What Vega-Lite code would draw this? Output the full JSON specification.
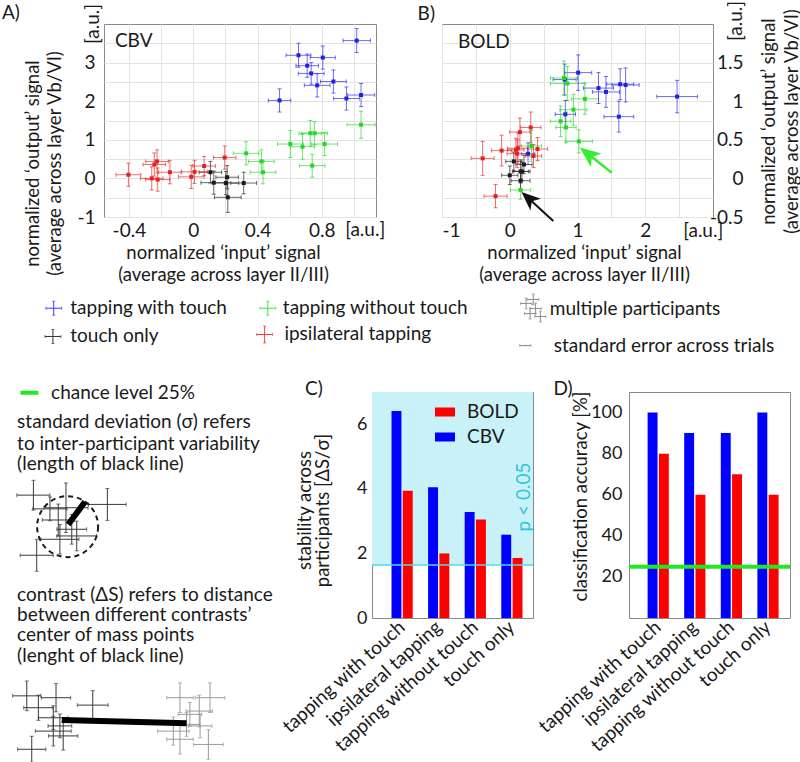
{
"$schema": "https://vega.github.io/schema/vega-lite/v6.json",
"padding": 0,
"autosize": {"type": "pad"},
"spacing": 0,
"resolve": {"scale": {"color": "independent", "xOffset": "independent"}, "legend": {"color": "independent"}},
"config": {
  "font": "Lato",
  "view": {"stroke": "#8a8a8a"},
  "axis": {"labelFont": "Lato", "titleFont": "Lato", "labelFontSize": 19, "titleFontSize": 18.5, "titleFontWeight": "normal", "labelColor": "#1a1a1a", "titleColor": "#1a1a1a", "domain": false, "ticks": false, "grid": false, "labelLimit": 0},
  "text": {"font": "Lato", "fontSize": 19, "color": "#1a1a1a"},
  "legend": {"labelFont": "Lato"}
},
"datasets": {
  "cbv": [
    {"c":"with","x":1.017,"y":3.57,"ex":0.085,"ey":0.31},
    {"c":"with","x":0.655,"y":3.19,"ex":0.077,"ey":0.31},
    {"c":"with","x":0.806,"y":3.13,"ex":0.078,"ey":0.3},
    {"c":"with","x":0.709,"y":2.92,"ex":0.07,"ey":0.3},
    {"c":"with","x":0.734,"y":2.72,"ex":0.08,"ey":0.28},
    {"c":"with","x":0.872,"y":2.51,"ex":0.08,"ey":0.3},
    {"c":"with","x":0.771,"y":2.41,"ex":0.08,"ey":0.3},
    {"c":"with","x":1.044,"y":2.16,"ex":0.085,"ey":0.3},
    {"c":"with","x":0.953,"y":2.07,"ex":0.08,"ey":0.3},
    {"c":"with","x":0.537,"y":2.02,"ex":0.07,"ey":0.3},
    {"c":"without","x":1.044,"y":1.39,"ex":0.087,"ey":0.35},
    {"c":"without","x":0.728,"y":1.17,"ex":0.07,"ey":0.33},
    {"c":"without","x":0.755,"y":1.17,"ex":0.08,"ey":0.3},
    {"c":"without","x":0.604,"y":0.89,"ex":0.08,"ey":0.35},
    {"c":"without","x":0.817,"y":0.89,"ex":0.08,"ey":0.3},
    {"c":"without","x":0.68,"y":0.82,"ex":0.075,"ey":0.32},
    {"c":"without","x":0.329,"y":0.65,"ex":0.08,"ey":0.3},
    {"c":"without","x":0.424,"y":0.44,"ex":0.08,"ey":0.3},
    {"c":"without","x":0.434,"y":0.16,"ex":0.08,"ey":0.3},
    {"c":"without","x":0.74,"y":0.33,"ex":0.08,"ey":0.3},
    {"c":"ipsi","x":-0.403,"y":0.095,"ex":0.077,"ey":0.3},
    {"c":"ipsi","x":-0.242,"y":0.36,"ex":0.07,"ey":0.3},
    {"c":"ipsi","x":-0.225,"y":0.44,"ex":0.07,"ey":0.3},
    {"c":"ipsi","x":-0.258,"y":0.0,"ex":0.07,"ey":0.3},
    {"c":"ipsi","x":-0.221,"y":-0.03,"ex":0.075,"ey":0.3},
    {"c":"ipsi","x":-0.145,"y":0.16,"ex":0.07,"ey":0.3},
    {"c":"ipsi","x":-0.012,"y":0.04,"ex":0.08,"ey":0.3},
    {"c":"ipsi","x":0.008,"y":0.17,"ex":0.08,"ey":0.3},
    {"c":"ipsi","x":0.068,"y":0.32,"ex":0.07,"ey":0.25},
    {"c":"ipsi","x":0.196,"y":0.54,"ex":0.07,"ey":0.3},
    {"c":"touch","x":0.107,"y":0.16,"ex":0.07,"ey":0.28},
    {"c":"touch","x":0.128,"y":-0.11,"ex":0.08,"ey":0.3},
    {"c":"touch","x":0.211,"y":0.03,"ex":0.07,"ey":0.3},
    {"c":"touch","x":0.203,"y":-0.12,"ex":0.08,"ey":0.3},
    {"c":"touch","x":0.314,"y":-0.12,"ex":0.08,"ey":0.28},
    {"c":"touch","x":0.215,"y":-0.49,"ex":0.083,"ey":0.39}
  ],
  "bold": [
    {"c":"with","x":1.01,"y":1.37,"ex":0.2,"ey":0.23},
    {"c":"with","x":0.81,"y":1.28,"ex":0.17,"ey":0.2},
    {"c":"with","x":1.31,"y":1.17,"ex":0.22,"ey":0.2},
    {"c":"with","x":1.42,"y":1.12,"ex":0.2,"ey":0.2},
    {"c":"with","x":1.63,"y":1.22,"ex":0.2,"ey":0.2},
    {"c":"with","x":1.71,"y":1.21,"ex":0.2,"ey":0.22},
    {"c":"with","x":2.47,"y":1.06,"ex":0.3,"ey":0.21},
    {"c":"with","x":1.61,"y":0.8,"ex":0.22,"ey":0.2},
    {"c":"with","x":0.82,"y":0.83,"ex":0.15,"ey":0.18},
    {"c":"with","x":0.27,"y":0.32,"ex":0.1,"ey":0.14},
    {"c":"without","x":0.8,"y":1.3,"ex":0.2,"ey":0.22},
    {"c":"without","x":0.85,"y":1.23,"ex":0.25,"ey":0.22},
    {"c":"without","x":1.11,"y":1.03,"ex":0.2,"ey":0.2},
    {"c":"without","x":0.94,"y":0.89,"ex":0.2,"ey":0.2},
    {"c":"without","x":0.75,"y":0.74,"ex":0.15,"ey":0.2},
    {"c":"without","x":0.83,"y":0.66,"ex":0.15,"ey":0.2},
    {"c":"without","x":1.02,"y":0.48,"ex":0.2,"ey":0.15},
    {"c":"without","x":0.32,"y":0.42,"ex":0.15,"ey":0.2},
    {"c":"without","x":0.16,"y":-0.15,"ex":0.15,"ey":0.12},
    {"c":"ipsi","x":-0.4,"y":0.26,"ex":0.17,"ey":0.22},
    {"c":"ipsi","x":-0.12,"y":0.36,"ex":0.15,"ey":0.2},
    {"c":"ipsi","x":0.15,"y":0.6,"ex":0.15,"ey":0.18},
    {"c":"ipsi","x":0.31,"y":0.66,"ex":0.15,"ey":0.2},
    {"c":"ipsi","x":0.12,"y":0.39,"ex":0.15,"ey":0.2},
    {"c":"ipsi","x":0.11,"y":0.32,"ex":0.15,"ey":0.18},
    {"c":"ipsi","x":0.41,"y":0.38,"ex":0.15,"ey":0.15},
    {"c":"ipsi","x":0.35,"y":0.29,"ex":0.12,"ey":0.15},
    {"c":"ipsi","x":-0.21,"y":-0.23,"ex":0.17,"ey":0.15},
    {"c":"ipsi","x":0.09,"y":0.37,"ex":0.12,"ey":0.15},
    {"c":"touch","x":0.06,"y":0.22,"ex":0.12,"ey":0.12},
    {"c":"touch","x":0.21,"y":0.18,"ex":0.12,"ey":0.12},
    {"c":"touch","x":0.16,"y":0.09,"ex":0.12,"ey":0.15},
    {"c":"touch","x":0.18,"y":0.09,"ex":0.12,"ey":0.12},
    {"c":"touch","x":0.0,"y":0.04,"ex":0.12,"ey":0.12},
    {"c":"touch","x":0.16,"y":-0.03,"ex":0.14,"ey":0.12}
  ],
  "lgx": [
    {"c":"with","x":6.8,"y":52,"ex":1.0,"ey":5.2},
    {"c":"touch","x":6.7,"y":73.1,"ex":1.0,"ey":5.2},
    {"c":"without","x":33.9,"y":52,"ex":1.0,"ey":5.2},
    {"c":"ipsi","x":33.5,"y":71.6,"ex":1.0,"ey":6.3},
    {"c":"multi","x":66.6,"y":48.5,"ex":0.7,"ey":4.0},
    {"c":"multi","x":67.8,"y":52.2,"ex":0.7,"ey":4.0},
    {"c":"multi","x":67.1,"y":56.0,"ex":0.7,"ey":4.0},
    {"c":"multi","x":68.4,"y":58.2,"ex":0.7,"ey":4.0},
    {"c":"multi","x":67.5,"y":45.5,"ex":0.7,"ey":4.0},
    {"c":"se","x":66.5,"y":79.9,"ex":0.7,"ey":0}
  ],
  "lgt": [
    {"t":"tapping with touch","x":8.9,"y":51.9},
    {"t":"touch only","x":8.9,"y":73.1},
    {"t":"tapping without touch","x":35.8,"y":52.0},
    {"t":"ipsilateral tapping","x":36.0,"y":71.0},
    {"t":"multiple participants","x":69.6,"y":52.8},
    {"t":"standard error across trials","x":70.1,"y":79.9}
  ],
  "stext": [
    {"t":"chance level 25%","x":18.5,"y":0.3},
    {"t":"standard deviation (σ) refers","x":6.2,"y":8.2},
    {"t":"to inter-participant variability","x":6.2,"y":13.9},
    {"t":"(length of black line)","x":6.2,"y":19.5},
    {"t":"contrast (ΔS) refers to distance","x":6.2,"y":54.7},
    {"t":"between different contrasts’","x":6.2,"y":60.1},
    {"t":"center of mass points","x":6.2,"y":65.5},
    {"t":"(lenght of black line)","x":6.2,"y":71.2},
    {"t":"C)","x":110.5,"y":-0.8},
    {"t":"D)","x":200.5,"y":-0.8}
  ],
  "scross": [
    {"g":"dark","x":12.1,"y":27.8,"ex":6.0,"ey":4.0},
    {"g":"dark","x":38.9,"y":30.3,"ex":6.8,"ey":4.3},
    {"g":"dark","x":23.9,"y":31.2,"ex":8.0,"ey":6.7},
    {"g":"dark","x":13.3,"y":44.0,"ex":6.0,"ey":4.3},
    {"g":"dark","x":21.1,"y":34.5,"ex":5.8,"ey":4.3},
    {"g":"dark","x":27.8,"y":38.8,"ex":7.2,"ey":4.0},
    {"g":"dark","x":21.7,"y":39.7,"ex":6.9,"ey":4.0},
    {"g":"dark","x":26.0,"y":37.0,"ex":5.4,"ey":4.0},
    {"g":"dark","x":18.1,"y":31.5,"ex":6.2,"ey":3.2},
    {"g":"dark","x":9.7,"y":81.9,"ex":5.1,"ey":4.0},
    {"g":"dark","x":20.3,"y":82.4,"ex":5.3,"ey":3.8},
    {"g":"dark","x":33.6,"y":84.4,"ex":5.6,"ey":3.9},
    {"g":"dark","x":13.9,"y":85.1,"ex":5.3,"ey":3.4},
    {"g":"dark","x":19.3,"y":87.8,"ex":5.4,"ey":3.2},
    {"g":"dark","x":19.3,"y":91.4,"ex":6.5,"ey":4.0},
    {"g":"dark","x":22.9,"y":92.7,"ex":5.3,"ey":3.8},
    {"g":"dark","x":11.5,"y":96.3,"ex":5.1,"ey":3.5},
    {"g":"dark","x":21.7,"y":90.0,"ex":4.3,"ey":3.2},
    {"g":"light","x":65.2,"y":82.4,"ex":4.8,"ey":4.0},
    {"g":"light","x":76.1,"y":82.4,"ex":5.4,"ey":4.0},
    {"g":"light","x":72.2,"y":86.0,"ex":4.8,"ey":4.3},
    {"g":"light","x":67.6,"y":89.6,"ex":4.8,"ey":3.2},
    {"g":"light","x":62.8,"y":91.4,"ex":5.7,"ey":3.8},
    {"g":"light","x":75.5,"y":95.0,"ex":5.4,"ey":4.0},
    {"g":"light","x":65.2,"y":93.6,"ex":4.8,"ey":4.0},
    {"g":"light","x":68.8,"y":86.9,"ex":4.3,"ey":3.2},
    {"g":"light","x":72.5,"y":90.0,"ex":4.3,"ey":3.2}
  ],
  "slines": [
    {"x":24.7,"y":35.7,"x2":30.8,"y2":29.6},
    {"x":22.4,"y":88.4,"x2":67.6,"y2":89.3}
  ],
  "stab": [
    {"cond":"tapping with touch","m":"CBV","v":6.41},
    {"cond":"tapping with touch","m":"BOLD","v":3.94},
    {"cond":"ipsilateral tapping","m":"CBV","v":4.05},
    {"cond":"ipsilateral tapping","m":"BOLD","v":2.0},
    {"cond":"tapping without touch","m":"CBV","v":3.28},
    {"cond":"tapping without touch","m":"BOLD","v":3.05},
    {"cond":"touch only","m":"CBV","v":2.58},
    {"cond":"touch only","m":"BOLD","v":1.86}
  ],
  "acc": [
    {"cond":"tapping with touch","m":"CBV","v":100},
    {"cond":"tapping with touch","m":"BOLD","v":80},
    {"cond":"ipsilateral tapping","m":"CBV","v":90},
    {"cond":"ipsilateral tapping","m":"BOLD","v":60},
    {"cond":"tapping without touch","m":"CBV","v":90},
    {"cond":"tapping without touch","m":"BOLD","v":70},
    {"cond":"touch only","m":"CBV","v":100},
    {"cond":"touch only","m":"BOLD","v":60}
  ]
},
"vconcat": [
  {
    "hconcat": [
      {"width": 38, "height": 193, "view": {"stroke": null}, "data": {"values": [{"t": ""}]}, "mark": {"type": "text"}, "encoding": {"text": {"field": "t"}}},
      {
        "width": 272, "height": 193,
        "data": {"name": "cbv"},
        "encoding": {
          "x": {"field": "x", "type": "quantitative", "scale": {"domain": [-0.555, 1.137], "nice": false, "zero": false},
                "axis": {"values": [-0.4,-0.2,0,0.2,0.4,0.6,0.8,1], "labelExpr": "abs(round(datum.value*10)) % 4 == 0 ? replace(format(datum.value, '~g'), '−', '-') : ''", "grid": true, "gridColor": "#e3e3e3", "labelPadding": 4,
                         "title": ["normalized ‘input’ signal", "(average across layer II/III)"], "titleX": 119, "titleY": 26, "titleBaseline": "top", "titleAlign": "center", "titleLineHeight": 22}},
          "y": {"field": "y", "type": "quantitative", "scale": {"domain": [-1, 4], "nice": false, "zero": false},
                "axis": {"values": [-1,-0.5,0,0.5,1,1.5,2,2.5,3,3.5], "labelExpr": "datum.value % 1 == 0 ? replace(format(datum.value, '~g'), '−', '-') : ''", "grid": true, "gridColor": "#e3e3e3", "labelPadding": 9,
                         "title": ["normalized ‘output’ signal", "(average across layer Vb/VI)"], "titleAngle": 270, "titleX": -72, "titleY": 139, "titleBaseline": "middle", "titleAlign": "center", "titleLineHeight": 22}},
          "color": {"field": "c", "type": "nominal", "scale": {"domain": ["with","without","touch","ipsi"], "range": ["#2020e6","#22d822","#1a1a1a","#e62020"]}, "legend": null}
        },
        "layer": [
          {"mark": {"type": "errorbar", "ticks": {"size": 4}, "thickness": 1, "opacity": 0.65}, "encoding": {"xError": {"field": "ex"}}},
          {"mark": {"type": "errorbar", "ticks": {"size": 4}, "thickness": 1, "opacity": 0.65}, "encoding": {"yError": {"field": "ey"}}},
          {"mark": {"type": "square", "size": 16, "opacity": 1}},
          {"data": {"values": [{"x": -0.487, "y": 3.55, "t": "CBV"}, {"x": -1.19, "y": 4.285, "t": "A)"}]}, "mark": {"type": "text", "align": "left", "baseline": "middle", "fontSize": 19}, "encoding": {"text": {"field": "t"}, "color": {"value": "#1a1a1a"}}},
          {"data": {"values": [{"x": 0.945, "y": -1.33, "t": "[a.u.]"}]}, "mark": {"type": "text", "align": "left", "baseline": "middle", "fontSize": 19}, "encoding": {"text": {"field": "t"}, "color": {"value": "#1a1a1a"}}},
          {"data": {"values": [{"x": -0.623, "y": 4.0, "t": "[a.u.]"}]}, "mark": {"type": "text", "align": "center", "baseline": "middle", "fontSize": 19, "angle": 270}, "encoding": {"text": {"field": "t"}, "color": {"value": "#1a1a1a"}}}
        ]
      },
      {
        "width": 271, "height": 193,
        "data": {"name": "bold"},
        "encoding": {
          "x": {"field": "x", "type": "quantitative", "scale": {"domain": [-1, 3], "nice": false, "zero": false},
                "axis": {"values": [-1,-0.5,0,0.5,1,1.5,2,2.5], "labelExpr": "datum.value % 1 == 0 ? replace(format(datum.value, '~g'), '−', '-') : ''", "grid": true, "gridColor": "#e3e3e3", "labelPadding": 4,
                         "title": ["normalized ‘input’ signal", "(average across layer II/III)"], "titleX": 142, "titleY": 26, "titleBaseline": "top", "titleAlign": "center", "titleLineHeight": 22}},
          "y": {"field": "y", "type": "quantitative", "scale": {"domain": [-0.5, 2], "nice": false, "zero": false},
                "axis": {"orient": "right", "values": [-0.5,-0.25,0,0.25,0.5,0.75,1,1.25,1.5,1.75], "labelExpr": "round(datum.value*4) % 2 == 0 ? replace(format(datum.value, '~g'), '−', '-') : ''", "grid": true, "gridColor": "#e3e3e3", "labelPadding": 30, "labelAlign": "right",
                         "title": ["normalized ‘output’ signal", "(average across layer Vb/VI)"], "titleAngle": 270, "titleX": 55, "titleY": 97, "titleBaseline": "middle", "titleAlign": "center", "titleLineHeight": 23}},
          "color": {"field": "c", "type": "nominal", "scale": {"domain": ["with","without","touch","ipsi"], "range": ["#2020e6","#22d822","#1a1a1a","#e62020"]}, "legend": null}
        },
        "layer": [
          {"mark": {"type": "errorbar", "ticks": {"size": 4}, "thickness": 1, "opacity": 0.65}, "encoding": {"xError": {"field": "ex"}}},
          {"mark": {"type": "errorbar", "ticks": {"size": 4}, "thickness": 1, "opacity": 0.65}, "encoding": {"yError": {"field": "ey"}}},
          {"mark": {"type": "square", "size": 16, "opacity": 1}},
          {"data": {"values": [{"x": 1.505, "y": 0.074, "x2": 1.176, "y2": 0.302}]}, "mark": {"type": "rule", "strokeWidth": 2.5}, "encoding": {"x2": {"field": "x2"}, "y2": {"field": "y2"}, "color": {"value": "#33ee33"}}},
          {"data": {"values": [{"x": 1.176, "y": 0.302}]}, "mark": {"type": "point", "shape": "M0,-1L0.7,0.7L0,0.25L-0.7,0.7Z", "filled": true, "size": 600, "angle": 308, "opacity": 1}, "encoding": {"color": {"value": "#33ee33"}}},
          {"data": {"values": [{"x": 0.643, "y": -0.552, "x2": 0.296, "y2": -0.272}]}, "mark": {"type": "rule", "strokeWidth": 2}, "encoding": {"x2": {"field": "x2"}, "y2": {"field": "y2"}, "color": {"value": "#111111"}}},
          {"data": {"values": [{"x": 0.296, "y": -0.272}]}, "mark": {"type": "point", "shape": "M0,-1L0.7,0.7L0,0.25L-0.7,0.7Z", "filled": true, "size": 500, "angle": 312, "opacity": 1}, "encoding": {"color": {"value": "#111111"}}},
          {"data": {"values": [{"x": -0.764, "y": 1.767, "t": "BOLD"}, {"x": -1.36, "y": 2.129, "t": "B)"}]}, "mark": {"type": "text", "align": "left", "baseline": "middle", "fontSize": 19}, "encoding": {"text": {"field": "t"}, "color": {"value": "#1a1a1a"}}},
          {"data": {"values": [{"x": 2.56, "y": -0.675, "t": "[a.u.]"}]}, "mark": {"type": "text", "align": "left", "baseline": "middle", "fontSize": 19}, "encoding": {"text": {"field": "t"}, "color": {"value": "#1a1a1a"}}},
          {"data": {"values": [{"x": 3.335, "y": 2.04, "t": "[a.u.]"}]}, "mark": {"type": "text", "align": "center", "baseline": "middle", "fontSize": 19, "angle": 270}, "encoding": {"text": {"field": "t"}, "color": {"value": "#1a1a1a"}}}
        ]
      }
    ],
    "spacing": 66,
    "bounds": "flush",
    "resolve": {"scale": {"color": "independent"}}
  },
  {
    "width": 790, "height": 95.5,
    "view": {"stroke": null},
    "encoding": {
      "x": {"field": "x", "type": "quantitative", "scale": {"domain": [0, 100], "nice": false, "zero": false}, "axis": null},
      "y": {"field": "y", "type": "quantitative", "scale": {"domain": [33.94, 105.2], "nice": false, "zero": false, "reverse": true}, "axis": null}
    },
    "layer": [
      {"data": {"name": "lgx"}, "mark": {"type": "errorbar", "ticks": {"size": 3}, "thickness": 1}, "encoding": {"xError": {"field": "ex"}, "color": {"field": "c", "type": "nominal", "scale": {"domain": ["with","without","touch","ipsi","multi","se"], "range": ["#3a3aff","#3ae03a","#333333","#f03a3a","#8c8c8c","#8c8c8c"]}, "legend": null}}},
      {"data": {"name": "lgx"}, "mark": {"type": "errorbar", "ticks": {"size": 3}, "thickness": 1}, "encoding": {"yError": {"field": "ey"}, "color": {"field": "c", "type": "nominal", "legend": null}}},
      {"data": {"name": "lgt"}, "mark": {"type": "text", "align": "left", "baseline": "middle", "fontSize": 19}, "encoding": {"text": {"field": "t"}}}
    ]
  },
  {
    "hconcat": [
      {
        "width": 276, "height": 371,
        "view": {"stroke": null},
        "encoding": {
          "x": {"field": "x", "type": "quantitative", "scale": {"domain": [0, 100], "nice": false, "zero": false}, "axis": null},
          "y": {"field": "y", "type": "quantitative", "scale": {"domain": [0, 100], "nice": false, "zero": false, "reverse": true}, "axis": null}
        },
        "layer": [
          {"data": {"values": [{"x": 7.4, "x2": 13.9, "y": 0.2}]}, "mark": {"type": "rule", "color": "#22e822", "strokeWidth": 4}, "encoding": {"x2": {"field": "x2"}}},
          {"data": {"name": "stext"}, "mark": {"type": "text", "align": "left", "baseline": "middle", "fontSize": 19}, "encoding": {"text": {"field": "t"}}},
          {"data": {"name": "scross"}, "mark": {"type": "errorbar", "ticks": {"size": 4}, "thickness": 1}, "encoding": {"xError": {"field": "ex"}, "color": {"field": "g", "type": "nominal", "scale": {"domain": ["dark", "light"], "range": ["#3a3a3a", "#9a9a9a"]}, "legend": null}}},
          {"data": {"name": "scross"}, "mark": {"type": "errorbar", "ticks": {"size": 4}, "thickness": 1}, "encoding": {"yError": {"field": "ey"}, "color": {"field": "g", "type": "nominal", "legend": null}}},
          {"data": {"values": [{"x": 24.5, "y": 36.3}]}, "mark": {"type": "point", "shape": "circle", "size": 3721, "filled": false, "color": "#1a1a1a", "strokeWidth": 2, "strokeDash": [5, 4], "opacity": 1}},
          {"data": {"name": "slines"}, "mark": {"type": "rule", "color": "#000000", "strokeWidth": 6}, "encoding": {"x2": {"field": "x2"}, "y2": {"field": "y2"}}}
        ]
      },
      {
        "width": 161, "height": 226,
        "layer": [
          {"data": {"values": [{"lo": 1.64, "hi": 7}]}, "mark": {"type": "rect", "color": "#c8f2f8"},
           "encoding": {"y": {"field": "lo", "type": "quantitative", "scale": {"domain": [0, 7], "nice": false},
                              "axis": {"values": [0,1,2,3,4,5,6], "labelFontSize": 18, "labelPadding": 5, "title": ["stability across", "participants [ΔS/σ]"], "titleAngle": 270, "titleX": -68, "titleY": 118, "titleBaseline": "middle", "titleAlign": "center", "titleLineHeight": 18.5}},
                        "y2": {"field": "hi"}}},
          {"data": {"name": "stab"}, "mark": {"type": "bar"},
           "encoding": {
             "x": {"field": "cond", "type": "nominal", "sort": ["tapping with touch", "ipsilateral tapping", "tapping without touch", "touch only"], "scale": {"paddingInner": 0.42, "paddingOuter": 0.41, "align": 0.65}, "title": null,
                   "axis": {"labelAngle": -42, "labelAlign": "right", "labelBaseline": "middle", "labelPadding": 6, "labelFontSize": 19, "labelLimit": 0}},
             "xOffset": {"field": "m", "type": "nominal", "sort": ["CBV", "BOLD"], "scale": {"paddingInner": 0.12}},
             "y": {"field": "v", "type": "quantitative"},
             "color": {"field": "m", "type": "nominal", "scale": {"domain": ["BOLD", "CBV"], "range": ["#ff0000", "#0000ff"]},
                       "legend": {"orient": "none", "legendX": 63, "legendY": 10, "title": null, "symbolType": "M-1,-0.45H1V0.45H-1Z", "symbolSize": 400, "labelFontSize": 19, "labelOffset": 12, "rowPadding": 5, "symbolStrokeWidth": 0, "symbolOpacity": 1, "labelColor": "#1a1a1a"}}
           }},
          {"data": {"values": [{"p": 1.64}]}, "mark": {"type": "rule", "color": "#55d8e6", "strokeWidth": 1.5}, "encoding": {"y": {"field": "p", "type": "quantitative"}}},
          {"data": {"values": [{"cond": "touch only", "v": 3.75, "t": "p < 0.05"}]}, "mark": {"type": "text", "angle": 270, "align": "center", "baseline": "middle", "color": "#30c6da", "fontSize": 19, "dy": 12},
           "encoding": {"x": {"field": "cond", "type": "nominal", "sort": ["tapping with touch", "ipsilateral tapping", "tapping without touch", "touch only"]}, "y": {"field": "v", "type": "quantitative"}, "text": {"field": "t"}}}
        ]
      },
      {
        "width": 161, "height": 226,
        "layer": [
          {"data": {"name": "acc"}, "mark": {"type": "bar"},
           "encoding": {
             "x": {"field": "cond", "type": "nominal", "sort": ["tapping with touch", "ipsilateral tapping", "tapping without touch", "touch only"], "scale": {"paddingInner": 0.42, "paddingOuter": 0.41, "align": 0.62}, "title": null,
                   "axis": {"labelAngle": -42, "labelAlign": "right", "labelBaseline": "middle", "labelPadding": 6, "labelFontSize": 19, "labelLimit": 0}},
             "xOffset": {"field": "m", "type": "nominal", "sort": ["CBV", "BOLD"], "scale": {"paddingInner": 0.12}},
             "y": {"field": "v", "type": "quantitative", "scale": {"domain": [0, 110], "nice": false},
                   "axis": {"values": [20, 40, 60, 80, 100], "labelFontSize": 18, "labelPadding": 7, "title": "classification accuracy [%]", "titleAngle": 270, "titleX": -49, "titleY": 104, "titleBaseline": "middle", "titleAlign": "center"}},
             "color": {"field": "m", "type": "nominal", "scale": {"domain": ["BOLD", "CBV"], "range": ["#ff0000", "#0000ff"]}, "legend": null}
           }},
          {"data": {"values": [{"p": 25}]}, "mark": {"type": "rule", "color": "#22e822", "strokeWidth": 4}, "encoding": {"y": {"field": "p", "type": "quantitative"}}}
        ]
      }
    ],
    "spacing": 96,
    "bounds": "flush",
    "resolve": {"scale": {"color": "independent", "xOffset": "independent"}, "legend": {"color": "independent"}}
  }
]
}
